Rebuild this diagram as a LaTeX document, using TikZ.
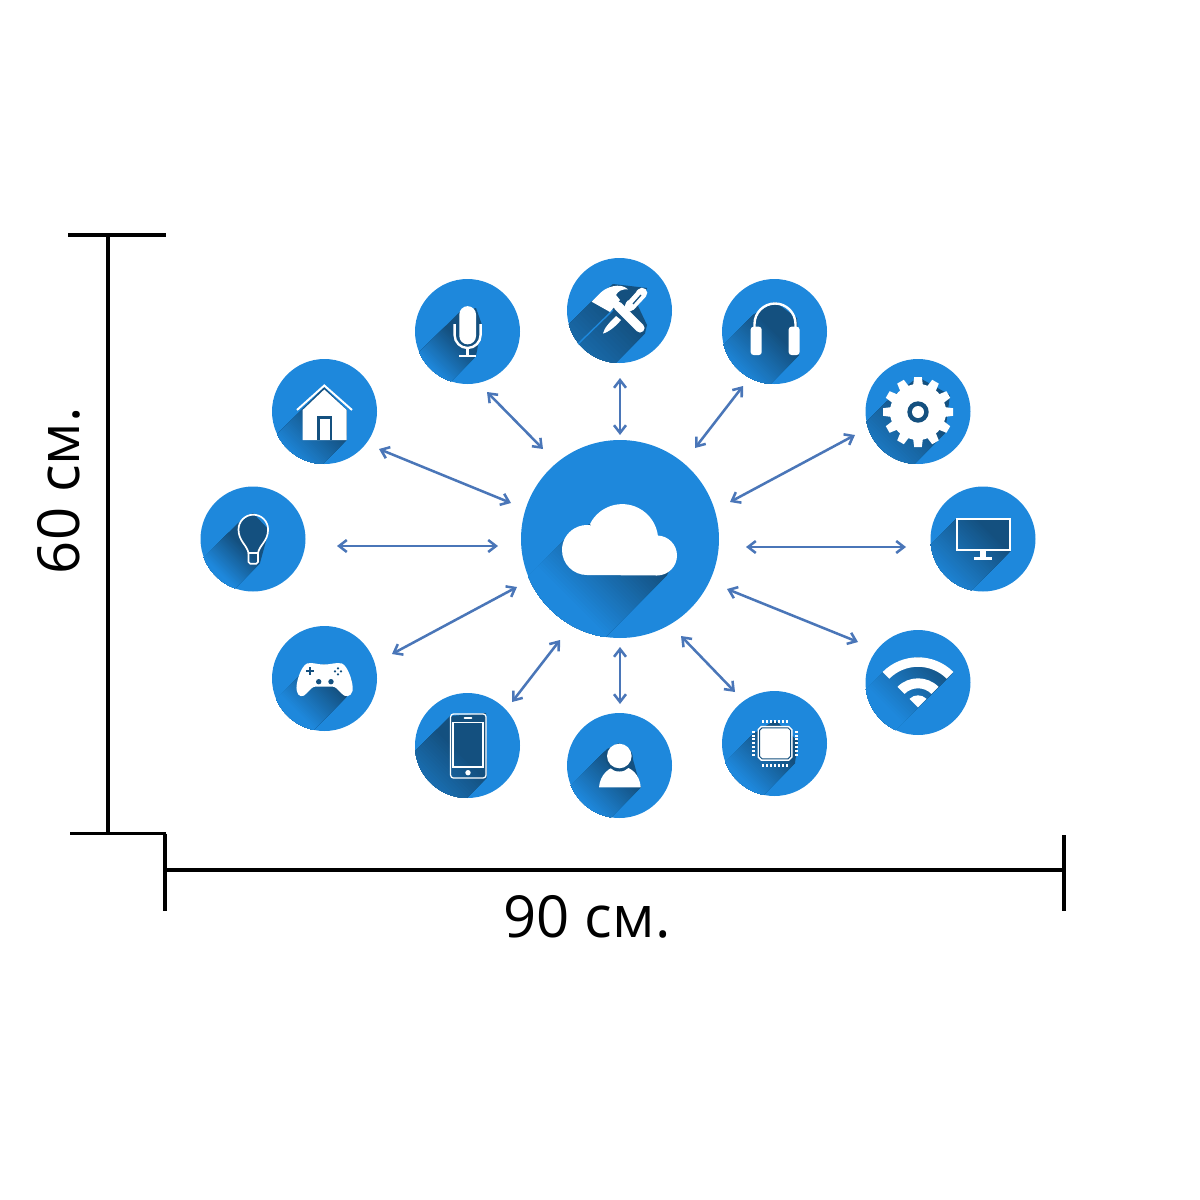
\documentclass[tikz,border=0pt]{standalone}
\usepackage{fontspec}
\setmainfont{Open Sans}
\usetikzlibrary{calc, arrows.meta}

\definecolor{circleblue}{HTML}{1E88DC}
\definecolor{iconshade}{HTML}{14507F}
\definecolor{linkblue}{HTML}{4A76B8}

\tikzset{
	iconcircle/.style={circle, fill=circleblue, minimum size=5.25cm, inner sep=0pt, outer sep=0pt},
	cloudcircle/.style={iconcircle, minimum size=9.9cm},
	linkarrow/.style={draw=linkblue, line width=3.6pt, {Straight Barb[length=11pt,width=17pt]}-{Straight Barb[length=11pt,width=17pt]}},
	dimline/.style={draw=black, line width=4.8pt},
	dimlabel/.style={font=\fontsize{82.5}{82.5}\selectfont, inner sep=0pt},
	iconline/.style={draw=white, line width=3.4pt},
	thinline/.style={draw=white, line width=2.4pt},
}

% circle node, its radius, first edge point, chain over the icon, last edge point, fade length
\newcommand{\longshadow}[6]{%
	\begin{scope}
		\clip (#1.center) circle (#2);
		\clip (#3) #4 -- (#5) -- ++(-220,220) -- ($(#3)+(-220,220)$) -- cycle;
		\begin{scope}[shift={(#5)}]
			\fill [iconshade] (-200,-200) rectangle (200,200);
			\foreach \i in {0,...,30}
			{
				\pgfmathsetmacro{\s}{\i*#6/42.4}
				\pgfmathtruncatemacro{\p}{100-\i*100/30}
				\fill [iconshade!\p!circleblue] (-\s+200,\s+200) -- (-\s-200,\s-200) -- (-\s-500,\s+100) -- (-\s-100,\s+500) -- cycle;
			}
		\end{scope}
	\end{scope}}

\begin{document}
\begin{tikzpicture}[x=0.05cm, y=-0.05cm]
	\useasboundingbox (0,0) rectangle (1200,1200);

	\node [cloudcircle] (cloud) at (620,539) {};
	\node [iconcircle] (house) at (324.5,411.5) {};
	\node [iconcircle] (mic) at (467.5,331.5) {};
	\node [iconcircle] (tools) at (619.5,310.5) {};
	\node [iconcircle] (phones) at (774.5,331.5) {};
	\node [iconcircle] (gear) at (918,411.5) {};
	\node [iconcircle] (monitor) at (983,539) {};
	\node [iconcircle] (wifi) at (918,682.5) {};
	\node [iconcircle] (chip) at (774.5,743.5) {};
	\node [iconcircle] (user) at (619.5,765.5) {};
	\node [iconcircle] (mobile) at (467.5,745.5) {};
	\node [iconcircle] (pad) at (324.5,678.5) {};
	\node [iconcircle] (bulb) at (253,539) {};

	\foreach \nm/\xa/\ya/\xb/\yb in {house/379/449/511/503, mic/487/392/543/449, tools/620/378/620/435,
		phones/743/386/695/448, gear/855/435/730/502, monitor/906/547/746/547, wifi/858/642/727/589,
		chip/735/692/681/636, user/620/704/620/647, mobile/512/702/560/640, pad/392/654/517/587, bulb/337/546/498/546}
	{
		\coordinate (\nm out) at (\xa,\ya);
		\coordinate (\nm in) at (\xb,\yb);
		\draw [linkarrow] (\nm out) -- (\nm in);
	}

	% cloud
	\longshadow{cloud}{99}{563,541}{-- (622,504) -- (677,555)}{667,575}{85}
	\fill [white] (587,575) arc [start angle=90, end angle=280, radius=25] -- (590,524)
		arc [start angle=206.6, end angle=353.6, radius=36] -- (657,535.5)
		arc [start angle=270, end angle=450, radius=20] -- cycle;

	% house
	\longshadow{house}{52.5}{301.7,410}{-- (324,387) -- (347,410)}{346.7,440}{50}
	\fill [white] (302.7,410) -- (324.3,389.5) -- (346.7,410) -- (346.7,440) -- (302.7,440) -- cycle;
	\draw [thinline, line width=2.8pt] (297,410) -- (324.3,385.5) -- (352,410);
	\draw [iconshade, line width=3.2pt] (318.5,440) -- (318.5,417.5) -- (331,417.5) -- (331,440);

	% microphone
	\longshadow{mic}{52.5}{459.5,312}{-- (476,308) -- (482,325)}{476,356}{40}
	\fill [white] (459.3,314.5) arc [start angle=180, end angle=360, radius=8.35] -- (476,336) arc [start angle=0, end angle=180, radius=8.35] -- cycle;
	\draw [iconline] (454.6,324) -- (454.6,335) arc [start angle=180, end angle=0, radius=13] -- (480.6,324);
	\draw [iconline] (467.6,348) -- (467.6,356);
	\draw [iconline] (459,356) -- (476,356);

	% tools
	\longshadow{tools}{52.5}{591.7,301.7}{-- (613,284) -- (647,288) -- (638,306) -- (647,325)}{645,333.3}{120}
	\draw [circleblue, line width=2pt] (613,310) -- (578,344);
	\fill [white] (591.7,301.7) -- (600,293.3) .. controls (606,287) and (620,282) .. (628,289.3)
		.. controls (622,289) and (618,291) .. (616,295) -- (620,300) -- (610,312) -- cycle;
	\draw [white, line width=13pt, line cap=round] (618,306) -- (640,328);
	\draw [white, line width=15pt, line cap=round] (630,306) -- (642,293);
	\draw [iconshade, line width=1.8pt] (628,300) -- (636,291) (633,304) -- (641,295);
	\fill [white] (621,320) -- (616,316) .. controls (610,322) and (604,328) .. (603,333.5) .. controls (609,332) and (616,326) .. (621,320) -- cycle;

	% headphones
	\longshadow{phones}{52.5}{753,315}{-- (775,302) -- (797,318)}{799,355}{55}
	\draw [iconline] (754.5,330) -- (754.5,324) arc [start angle=180, end angle=360, radius=20.5] -- (795.5,330);
	\fill [white, rounded corners=4pt] (750.7,326.7) rectangle (761.7,355);
	\fill [white, rounded corners=4pt] (788.7,326.7) rectangle (799.5,355);

	% gear
	\longshadow{gear}{52.5}{886.7,401.7}{-- (918,377) -- (950,395)}{945,433}{80}
	\begin{scope}[shift={(918,412)}]
		\fill [white] (0,0) circle (28);
		\foreach \a in {0,30,...,330}
		{
			\fill [white, rotate=\a] (-5,-26) -- (-3.8,-35) -- (3.8,-35) -- (5,-26) -- cycle;
		}
		\fill [iconshade] (0,0) circle (10.7);
		\fill [white] (0,0) circle (6);
	\end{scope}

	% monitor
	\longshadow{monitor}{52.5}{956,519}{-- (1010.7,519)}{1010.7,551}{70}
	\draw [thinline] (956.8,519) rectangle (1010,550);
	\fill [white] (980,550) rectangle (986,558);
	\fill [white] (974,557.3) rectangle (992.3,560.3);

	% wifi
	\longshadow{wifi}{52.5}{882,673}{-- (918,657)}{953,672.7}{70}
	\coordinate (wifi apex) at (918,707.3);
	\foreach \ro/\ri in {50/40.5, 29/19}
	{
		\fill [white] ($(wifi apex)+(225:\ro)$) arc [start angle=225, end angle=315, radius=\ro]
			-- ($(wifi apex)+(315:\ri)$) arc [start angle=315, end angle=225, radius=\ri] -- cycle;
	}
	\fill [white] (wifi apex) -- ($(wifi apex)+(225:12)$) arc [start angle=225, end angle=315, radius=12] -- cycle;

	% chip
	\longshadow{chip}{52.5}{752,735}{-- (775,720) -- (798,741)}{795,763}{48}
	\begin{scope}[shift={(775,743.3)}]
		\foreach \k in {-3,...,3}
		{
			\fill [white] (\k*3.9-1,-23.5) rectangle ++(2,3.5);
			\fill [white] (\k*3.9-1,20.2) rectangle ++(2,3.5);
			\fill [white] (-23,\k*3.9-1) rectangle ++(3.2,2);
			\fill [white] (20,\k*3.9-1) rectangle ++(3.2,2);
		}
		\fill [white] (-14,-17.5) -- (14,-17.5) -- (17.5,-14) -- (17.5,14) -- (14,17.5) -- (-14,17.5) -- (-17.5,14) -- (-17.5,-14) -- cycle;
		\draw [iconshade, fill=white, line width=1.4pt] (-13,-15.5) -- (13,-15.5) -- (15.5,-13) -- (15.5,13) -- (13,15.5) -- (-13,15.5) -- (-15.5,13) -- (-15.5,-13) -- cycle;
	\end{scope}

	% user
	\longshadow{user}{52.5}{607,749}{-- (619,743) -- (632,756)}{640.7,787.3}{50}
	\fill [white] (599,787.3) .. controls (600,775) and (609,766) .. (619.8,766) .. controls (631,766) and (640,775) .. (640.7,787.3) -- cycle;
	\fill [iconshade] (619.3,758) circle (13.5);
	\fill [white] (619.3,756) circle (12.3);

	% mobile
	\longshadow{mobile}{52.5}{450,716}{-- (486,713)}{486.7,778}{80}
	\draw [thinline, line width=1.8pt, rounded corners=4pt] (450.6,714) rectangle (486,778);
	\draw [thinline, line width=1.8pt] (453,722.5) rectangle (483,767);
	\draw [white, line width=2.4pt, line cap=round] (464.5,718.3) -- (471.5,718.3);
	\fill [white] (468,772.7) circle (2.7);

	% game pad
	\longshadow{pad}{52.5}{300,675}{-- (324,664) -- (352,680)}{346.7,696.7}{45}
	\fill [white] (307,663.5) .. controls (313,662) and (316,664.5) .. (324,664.5) .. controls (332,664.5) and (336,662) .. (342,663.5)
		.. controls (348,666) and (354,684) .. (352.5,691) .. controls (351,697) and (345,698) .. (341,693)
		.. controls (338,690) and (336,686.5) .. (332,686.5) -- (316,686.5) .. controls (312,686.5) and (310,690) .. (307,693)
		.. controls (303,698) and (298,697) .. (296.8,691) .. controls (295,684) and (301,666) .. (307,663.5) -- cycle;
	\draw [iconshade, line width=3pt] (306.3,671.3) -- (314.3,671.3) (310.3,667.3) -- (310.3,675.3);
	\foreach \dx/\dy in {-3/0, 3/0, 0/-3, 0/3}
	{
		\fill [iconshade] (338+\dx,671.3+\dy) circle (1.2);
	}
	\fill [iconshade] (318.7,681.7) circle (2.7);
	\fill [iconshade] (331,681.7) circle (2.7);

	% bulb
	\longshadow{bulb}{52.5}{238,523}{-- (253,513) -- (269,530)}{260,563}{35}
	\draw [thinline] (248.5,553) .. controls (247,545) and (238.5,541) .. (238.5,529.5)
		arc [start angle=180, end angle=360, radius=14.8]
		.. controls (268.1,541) and (259.5,545) .. (258,553) -- cycle;
	\draw [thinline, rounded corners=2.5pt] (248.5,553) -- (248.5,563.7) -- (258,563.7) -- (258,553);

	% dimensions
	\coordinate (height top) at (108,235);
	\coordinate (height bottom) at (108,833.5);
	\coordinate (top tick left) at (68,235);
	\coordinate (top tick right) at (166,235);
	\coordinate (bottom tick left) at (70,833.5);
	\coordinate (bottom tick right) at (166,833.5);
	\coordinate (width left) at (165,870);
	\coordinate (width right) at (1064,870);
	\coordinate (left tick top) at (165,833.5);
	\coordinate (left tick bottom) at (165,911);
	\coordinate (right tick top) at (1064,835);
	\coordinate (right tick bottom) at (1064,911);

	\draw [dimline] (height top) -- (height bottom);
	\draw [dimline] (top tick left) -- (top tick right);
	\draw [dimline] (bottom tick left) -- (bottom tick right);
	\draw [dimline] (width left) -- (width right);
	\draw [dimline] (left tick top) -- (left tick bottom);
	\draw [dimline] (right tick top) -- (right tick bottom);

	\node [dimlabel, rotate=90] (height label) at (59,490.5) {60 см.};
	\node [dimlabel] (width label) at (587,917) {90 см.};
\end{tikzpicture}
\end{document}
